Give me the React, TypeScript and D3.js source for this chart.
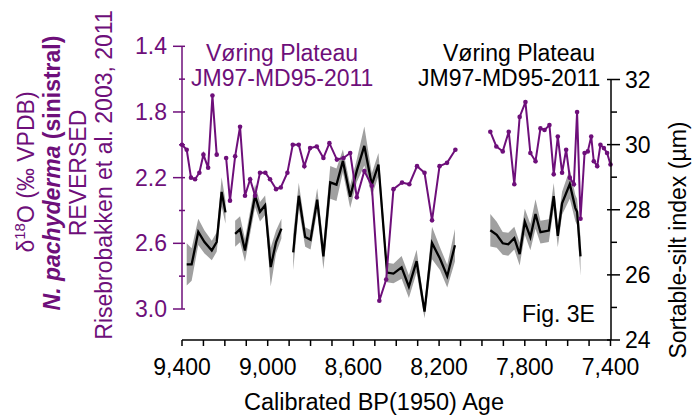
import React from 'react';
import * as d3 from 'd3';

// δ18O N. pachyderma (s), reversed axis; null marks a gap
const o18Ages = [9400, 9378, 9358, 9339, 9319, 9300, 9278, 9258, 9238, null,
  9194, 9176, 9152, 9129, 9106, 9082, 9059, 9036, 9011, 8989, 8961, 8939, 8908, 8883, 8855, 8829, 8802, 8771, 8740, 8712,
  8677, 8646, 8615, 8584, 8549, 8514, 8479, 8447, 8413, 8373, 8339, 8303, 8268, 8233, 8198, 8163, 8124, null,
  7961, 7933, 7903, 7875, 7849, 7824, 7797, 7774, 7750, 7727, 7708, 7685, 7665, 7646, 7626, 7607, 7590, 7571, 7556, 7540,
  7521, 7506, 7490, 7478, 7462, 7447, 7431, 7416, 7400];
const o18Values = [2.00, 2.03, 2.20, 2.21, 2.17, 2.06, 2.14, 1.70, 2.06, null,
  2.08, 2.34, 2.07, 1.89, 2.31, 2.21, 2.31, 2.17, 2.17, 2.21, 2.27, 2.26, 2.17, 2.00, 2.00, 2.13, 2.02, 2.01, 2.08, 1.99,
  2.09, 2.08, 2.05, 2.32, 2.16, 2.25, 2.95, 2.82, 2.27, 2.23, 2.24, 2.13, 2.17, 2.46, 2.13, 2.11, 2.03, null,
  1.92, 2.01, 2.04, 1.92, 2.24, 1.83, 1.74, 2.05, 2.10, 1.90, 1.91, 1.88, 2.18, 1.95, 2.17, 2.03, 2.20, 2.24, 1.80, 2.45,
  2.05, 2.04, 1.95, 2.10, 2.13, 2.00, 2.02, 2.05, 2.12];

// Sortable-silt mean (µm) with uncertainty half-width; null marks a gap
const siltAges = [9378, 9355, 9324, 9295, 9261, 9238, 9215, 9197, null,
  9152, 9129, 9106, 9059, 9036, 9012, 8986, 8961, 8936, null,
  8881, 8855, 8825, 8800, 8769, 8740, 8708, 8679, 8649, 8615, 8584, 8549, 8514, 8483, 8443, 8413, 8375, 8341, 8305, 8268,
  8233, 8196, 8162, 8126, null,
  7961, 7931, 7903, 7877, 7849, 7824, 7800, 7774, 7750, 7727, 7688, 7665, 7646, 7626, 7590, 7564, 7556, 7540];
const siltValues = [26.32, 26.32, 27.32, 27.01, 26.75, 27.01, 28.55, 27.92, null,
  27.26, 27.40, 26.75, 28.43, 27.94, 28.14, 26.24, 27.01, 27.42, null,
  26.69, 28.43, 27.16, 27.08, 28.31, 26.57, 28.84, 28.77, 29.50, 28.40, 29.20, 29.96, 28.77, 29.39, 26.07, 26.04, 26.23, 25.64, 26.42, 24.87,
  26.98, 26.50, 25.96, 26.91, null,
  27.37, 27.23, 26.97, 26.94, 27.13, 26.64, 27.63, 27.16, 27.87, 27.31, 27.36, 28.42, 27.20, 28.20, 28.79, 28.05, 27.94, 26.57];
const siltErrors = [0.65, 0.5, 0.4, 0.35, 0.3, 0.3, 0.45, 0.35, null,
  0.4, 0.4, 0.35, 0.35, 0.3, 0.3, 0.6, 0.35, 0.3, null,
  0.55, 0.4, 0.3, 0.3, 0.35, 0.4, 0.5, 0.5, 0.35, 0.35, 0.35, 0.6, 0.35, 0.35, 0.3, 0.3, 0.35, 0.35, 0.35, 0.2,
  0.5, 0.35, 0.35, 0.5, null,
  0.5, 0.4, 0.35, 0.35, 0.35, 0.35, 0.4, 0.4, 0.45, 0.35, 0.35, 0.4, 0.35, 0.35, 0.45, 0.4, 0.4, 0.6];

const xMajorTicks = [9400, 9000, 8600, 8200, 7800, 7400];
const leftMajorTicks = [1.4, 1.8, 2.2, 2.6, 3.0];
const leftMinorTicks = [1.6, 2.0, 2.4, 2.8];
const rightMajorTicks = [24, 26, 28, 30, 32];
const rightMinorTicks = [25, 27, 29, 31];

const PURPLE = '#6e0f7a';
const FONT = '"Liberation Sans", Arial, sans-serif';

export default function App() {
  const x = d3.scaleLinear().domain([9400, 7400]).range([182, 610.5]);
  const yL = d3.scaleLinear().domain([1.4, 3.0]).range([46.3, 309]);
  const yR = d3.scaleLinear().domain([24, 32]).range([340, 79.5]);

  const o18 = o18Ages.map((a, i) => ({ a, v: o18Values[i] }));
  const silt = siltAges.map((a, i) => ({ a, v: siltValues[i], e: siltErrors[i] }));

  const o18Line = d3.line<any>().defined(d => d.a != null && d.v != null)
    .x(d => x(d.a)).y(d => yL(d.v));
  const siltLine = d3.line<any>().defined(d => d.a != null && d.v != null)
    .x(d => x(d.a)).y(d => yR(d.v));
  const siltArea = d3.area<any>().defined(d => d.a != null && d.v != null)
    .x(d => x(d.a)).y0(d => yR(d.v - d.e)).y1(d => yR(d.v + d.e));

  const xMinor = d3.range(9400, 7399, -100);
  const fmt = d3.format(',');

  return (
    <svg width={693} height={416} style={{ position: 'absolute', left: 0, top: 0, background: '#fff' }}
      fontFamily={FONT}>
      {/* silt band & line */}
      <path d={siltArea(silt) || ''} fill="#a0a0a0" stroke="none" />
      <path d={siltLine(silt) || ''} fill="none" stroke="#000" strokeWidth={2.3} strokeLinejoin="miter" />
      {/* d18O */}
      <path d={o18Line(o18) || ''} fill="none" stroke={PURPLE} strokeWidth={2} />
      {o18.filter(d => d.a != null).map((d, i) => (
        <circle key={i} cx={x(d.a as number)} cy={yL(d.v as number)} r={2.3} fill={PURPLE} />
      ))}

      {/* x axis */}
      <line x1={x(9400)} x2={611} y1={340} y2={340} stroke="#000" strokeWidth={1.5} />
      {xMinor.map(t => (
        <line key={t} x1={x(t)} x2={x(t)} y1={340} y2={346} stroke="#000" strokeWidth={1.5} />
      ))}
      {xMajorTicks.map(t => (
        <text key={t} x={x(t)} y={375} textAnchor="middle" fontSize={23} fill="#000">{fmt(t)}</text>
      ))}
      <text x={374} y={410} textAnchor="middle" fontSize={23.5} fill="#000">Calibrated BP(1950) Age</text>

      {/* left axis */}
      <line x1={182} x2={182} y1={yL(1.4)} y2={yL(3.0)} stroke={PURPLE} strokeWidth={1.5} />
      {leftMajorTicks.map(t => (
        <g key={t}>
          <line x1={173} x2={185} y1={yL(t)} y2={yL(t)} stroke={PURPLE} strokeWidth={1.5} />
          <text x={167} y={yL(t) + 8} textAnchor="end" fontSize={23} fill={PURPLE}>{t.toFixed(1)}</text>
        </g>
      ))}
      {leftMinorTicks.map(t => (
        <line key={t} x1={179} x2={185} y1={yL(t)} y2={yL(t)} stroke={PURPLE} strokeWidth={1.5} />
      ))}

      {/* right axis */}
      <line x1={611} x2={611} y1={yR(32)} y2={340} stroke="#000" strokeWidth={1.5} />
      {rightMajorTicks.map(t => (
        <g key={t}>
          <line x1={607} x2={620} y1={yR(t)} y2={yR(t)} stroke="#000" strokeWidth={1.5} />
          <text x={625} y={yR(t) + 8} textAnchor="start" fontSize={23} fill="#000">{t}</text>
        </g>
      ))}
      {rightMinorTicks.map(t => (
        <line key={t} x1={611} x2={617} y1={yR(t)} y2={yR(t)} stroke="#000" strokeWidth={1.5} />
      ))}

      {/* left axis title */}
      <g fill={PURPLE} fontSize={23}>
        <text transform="translate(34,172) rotate(-90)" textAnchor="middle">
          δ<tspan fontSize={15} dy={-9}>18</tspan><tspan dy={9}>O (‰ VPDB)</tspan>
        </text>
        <text transform="translate(60,173) rotate(-90)" textAnchor="middle" fontWeight="bold">
          <tspan fontStyle="italic">N. pachyderma</tspan> (sinistral)
        </text>
        <text transform="translate(86,173) rotate(-90)" textAnchor="middle">REVERSED</text>
        <text transform="translate(112,175) rotate(-90)" textAnchor="middle">Risebrobakken et al. 2003, 2011</text>
      </g>

      {/* right axis title */}
      <text transform="translate(686,240) rotate(-90)" textAnchor="middle" fontSize={23} fill="#000">Sortable-silt index (µm)</text>

      {/* series labels */}
      <text x={206} y={61} fontSize={23} fill={PURPLE}>Vøring Plateau</text>
      <text x={191} y={86} fontSize={23} fill={PURPLE}>JM97-MD95-2011</text>
      <text x={443} y={61} fontSize={23} fill="#000">Vøring Plateau</text>
      <text x={418} y={86} fontSize={23} fill="#000">JM97-MD95-2011</text>

      <text x={522} y={322} fontSize={23} fill="#000">Fig. 3E</text>
    </svg>
  );
}
